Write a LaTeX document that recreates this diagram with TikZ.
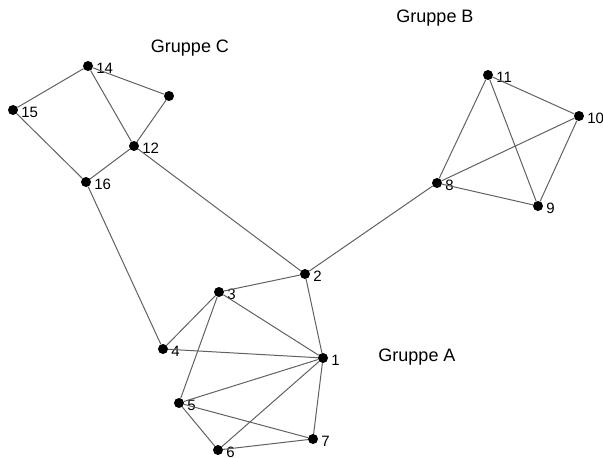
\documentclass[tikz,border=0pt]{standalone}
\usepackage{fontspec}
\setmainfont{Liberation Sans}
\usepackage{tikz}

\tikzset{
  vertex/.style={shape=circle, fill=black, inner sep=0pt, minimum size=10pt},
  lbl/.style={font=\fontsize{15}{17}\selectfont, inner sep=1pt, label distance=2pt, yshift=-2pt},
  edge/.style={draw=black!62, line width=1pt},
  grp/.style={font=\fontsize{18}{21}\selectfont}
}

\begin{document}
\begin{tikzpicture}[x=1pt, y=-1pt]
        \useasboundingbox (0,0) rectangle (603,458);
        % Gruppe A
        \node[vertex, label={[lbl]right:1}] (n1) at (323, 358) {};
        \node[vertex, label={[lbl]right:2}] (n2) at (305, 274) {};
        \node[vertex, label={[lbl]right:3}] (n3) at (219, 292) {};
        \node[vertex, label={[lbl]right:4}] (n4) at (163, 349) {};
        \node[vertex, label={[lbl]right:5}] (n5) at (179, 403) {};
        \node[vertex, label={[lbl]right:6}] (n6) at (218, 450) {};
        \node[vertex, label={[lbl]right:7}] (n7) at (313, 439) {};
        % Gruppe B
        \node[vertex, label={[lbl]right:8}] (n8) at (437, 183) {};
        \node[vertex, label={[lbl]right:9}] (n9) at (538, 206) {};
        \node[vertex, label={[lbl]right:10}] (n10) at (579, 116) {};
        \node[vertex, label={[lbl]right:11}] (n11) at (488, 75) {};
        % Gruppe C
        \node[vertex, label={[lbl]right:12}] (n12) at (134, 146) {};
        \node[vertex] (n13) at (169, 96) {};
        \node[vertex, label={[lbl]right:14}] (n14) at (88, 66) {};
        \node[vertex, label={[lbl]right:15}] (n15) at (13, 110) {};
        \node[vertex, label={[lbl]right:16}] (n16) at (86, 182) {};

        \node[grp] (gA) at (417, 357) {Gruppe A};
        \node[grp] (gB) at (435, 18) {Gruppe B};
        \node[grp] (gC) at (190, 48) {Gruppe C};

        % edges
        \draw[edge] (n2) -- (n3) (n2) -- (n1) (n3) -- (n1) (n3) -- (n4) (n3) -- (n5);
        \draw[edge] (n4) -- (n1) (n5) -- (n1) (n6) -- (n1) (n7) -- (n1);
        \draw[edge] (n5) -- (n7) (n5) -- (n6) (n6) -- (n7);
        \draw[edge] (n8) -- (n11) (n8) -- (n10) (n8) -- (n9) (n11) -- (n9) (n11) -- (n10) (n10) -- (n9);
        \draw[edge] (n14) -- (n15) (n14) -- (n13) (n14) -- (n12) (n13) -- (n12) (n15) -- (n16) (n12) -- (n16);
        \draw[edge] (n2) -- (n8) (n2) -- (n12) (n16) -- (n4);
    \end{tikzpicture}
\end{document}
